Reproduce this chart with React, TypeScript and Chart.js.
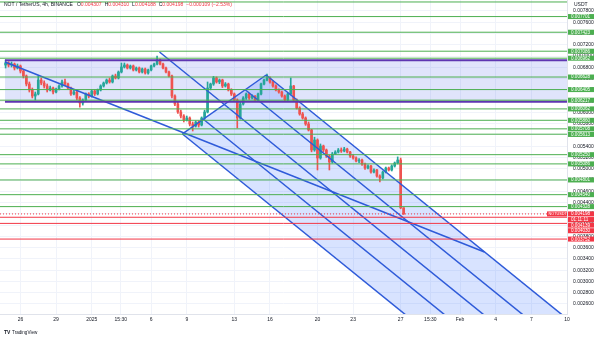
import React, { useEffect, useRef } from "react";
import { Chart, registerables } from "chart.js";

Chart.register(...registerables);

// ---------- data ----------
const HEADER_SYMBOL = "NOT / TetherUS, 4h, BINANCE";
const HEADER_OHLC: [string, string][] = [
  ["O", "0.004307"],
  ["H", "0.004310"],
  ["L", "0.004188"],
  ["C", "0.004198"],
  ["", "\u22120.000109 (\u22122.53%)"],
];

// time axis in days from 2025-01-01 00:00
const CANDLE_START = -7.25;
const CANDLE_STEP = 0.25;
// prices in 1e-6 USDT: [open, high, low, close]
const candles: number[][] = [
  [6841, 6930, 6788, 6877], [6877, 6900, 6806, 6841], [6841, 6895, 6806, 6859], [6859, 6877, 6753, 6788],
  [6788, 6859, 6770, 6824], [6824, 6841, 6700, 6735], [6735, 6753, 6611, 6646], [6646, 6664, 6470, 6504],
  [6504, 6540, 6362, 6398], [6398, 6433, 6256, 6291], [6291, 6362, 6220, 6327], [6327, 6646, 6310, 6575],
  [6575, 6611, 6490, 6522], [6522, 6560, 6433, 6469], [6469, 6504, 6362, 6398], [6398, 6469, 6380, 6433],
  [6433, 6450, 6330, 6362], [6362, 6433, 6345, 6415], [6415, 6490, 6398, 6469], [6469, 6575, 6450, 6540],
  [6540, 6593, 6480, 6504], [6504, 6522, 6415, 6433], [6433, 6450, 6300, 6327], [6327, 6398, 6310, 6362],
  [6362, 6380, 6220, 6256], [6256, 6280, 6095, 6167], [6167, 6240, 6130, 6220], [6220, 6345, 6200, 6327],
  [6327, 6350, 6256, 6291], [6291, 6398, 6270, 6380], [6380, 6400, 6300, 6327], [6327, 6415, 6310, 6398],
  [6398, 6490, 6380, 6469], [6469, 6540, 6450, 6522], [6522, 6593, 6504, 6575], [6575, 6611, 6520, 6540],
  [6540, 6664, 6522, 6646], [6646, 6680, 6593, 6611], [6611, 6735, 6593, 6717], [6717, 6877, 6700, 6806],
  [6806, 6877, 6788, 6841], [6841, 6860, 6770, 6788], [6788, 6841, 6770, 6824], [6824, 6841, 6735, 6753],
  [6753, 6806, 6735, 6788], [6788, 6806, 6700, 6717], [6717, 6788, 6699, 6770], [6770, 6788, 6680, 6699],
  [6699, 6770, 6680, 6753], [6753, 6841, 6735, 6824], [6824, 6877, 6806, 6859], [6859, 7001, 6841, 6930],
  [6930, 6948, 6841, 6859], [6859, 6877, 6770, 6788], [6788, 6806, 6700, 6717], [6717, 6735, 6630, 6646],
  [6646, 6664, 6256, 6291], [6291, 6310, 6120, 6149], [6149, 6180, 5980, 6007], [6007, 6040, 5900, 5936],
  [5936, 5960, 5830, 5865], [5865, 5936, 5848, 5901], [5901, 5920, 5760, 5794], [5794, 5830, 5670, 5759],
  [5759, 5848, 5740, 5830], [5830, 5850, 5740, 5776], [5776, 5920, 5760, 5901], [5901, 6040, 5880, 6007],
  [6007, 6540, 5990, 6433], [6433, 6520, 6400, 6504], [6504, 6640, 6480, 6611], [6611, 6630, 6520, 6540],
  [6540, 6593, 6510, 6575], [6575, 6590, 6440, 6469], [6469, 6530, 6450, 6504], [6504, 6520, 6380, 6398],
  [6398, 6420, 6300, 6327], [6327, 6345, 6200, 6220], [6220, 6240, 5723, 5901], [5901, 6180, 5880, 6149],
  [6149, 6280, 6130, 6256], [6256, 6345, 6230, 6327], [6327, 6345, 6230, 6256], [6256, 6310, 6240, 6291],
  [6291, 6300, 6200, 6220], [6220, 6345, 6200, 6327], [6327, 6520, 6310, 6504], [6504, 6593, 6490, 6575],
  [6575, 6682, 6560, 6611], [6611, 6630, 6520, 6540], [6540, 6560, 6450, 6469], [6469, 6490, 6380, 6398],
  [6398, 6420, 6340, 6362], [6362, 6380, 6270, 6291], [6291, 6310, 6200, 6220], [6220, 6345, 6200, 6327],
  [6327, 6611, 6310, 6469], [6469, 6480, 6200, 6220], [6220, 6240, 6060, 6078], [6078, 6100, 5950, 5972],
  [5972, 6000, 5880, 5901], [5901, 5920, 5770, 5794], [5794, 5830, 5670, 5688], [5688, 5700, 5300, 5333],
  [5333, 5560, 5310, 5510], [5510, 5530, 4978, 5191], [5191, 5440, 5170, 5404], [5404, 5420, 5300, 5333],
  [5333, 5350, 5200, 5226], [5226, 5240, 4978, 5120], [5120, 5290, 5100, 5262], [5262, 5320, 5250, 5297],
  [5297, 5360, 5280, 5333], [5333, 5370, 5290, 5315], [5315, 5380, 5300, 5350], [5350, 5365, 5280, 5297],
  [5297, 5310, 5200, 5226], [5226, 5250, 5170, 5191], [5191, 5210, 5120, 5137], [5137, 5180, 5110, 5155],
  [5155, 5170, 5060, 5084], [5084, 5100, 4990, 5013], [5013, 5070, 4995, 5049], [5049, 5060, 4920, 4942],
  [4942, 5000, 4925, 4978], [4978, 4990, 4850, 4871], [4871, 4890, 4765, 4836], [4836, 4960, 4820, 4942],
  [4942, 5030, 4925, 5013], [5013, 5030, 4960, 4978], [4978, 5070, 4960, 5049], [5049, 5120, 5030, 5102],
  [5102, 5210, 5085, 5155], [5155, 5190, 4290, 4307], [4307, 4310, 4188, 4198],
];

const xTickValues = [-6, -3, 0, 2.45, 5, 8, 12, 15, 19, 22, 26, 28.5, 31, 34, 37, 40];
const xTickLabels = ["26", "29", "2025", "15:30", "6", "9", "13", "16", "20", "23", "27", "15:30", "Feb", "4", "7", "10"];

const priceTicks = [7800, 7600, 7400, 7200, 7000, 6800, 6600, 6400, 6200, 6000, 5800, 5600, 5400, 5200, 5000,
  4800, 4600, 4400, 4200, 4000, 3800, 3600, 3400, 3200, 3000, 2800, 2600];

const greenLevels = [7960, 7701, 7423, 7086, 6962, 6628, 6405, 6217, 6062, 5860, 5708, 5613, 5250, 5086, 4801, 4540, 4328];
const redLevels = [4139, 4030, 3752];
const lastPrice = 4198;
const countdown = "01:11:11";
const tickerTag = "NOTUSDT";

const boxRange = [6925, 6190]; // top, bottom
const boxStartDay = -7.3;

const trendLine = [[-7.3, 6894], [33.05, 3522]];
const pitchforkPoints = [[5.705, 7072], [7.634, 5617], [14.68, 6664]];
const pitchforkLevels = [0, 0.25, 0.5, 0.75, 1];

// ---------- styling ----------
const X_MIN = -7.72, X_MAX = 40;
const Y_MIN = 2422, Y_MAX = 7995;
const UP = "#26a69a", DOWN = "#ef5350";
const GREEN = "#4caf50", RED = "#f23645", PURPLE = "#5e35b1", BLUE = "#2f5bd9";
const FONT = '"Liberation Sans", Arial, sans-serif';
const fmt = (v: number) => (v / 1e6).toFixed(6);

function pitchforkLines() {
  const [P1, P2, P3] = pitchforkPoints;
  const mid = [(P2[0] + P3[0]) / 2, (P2[1] + P3[1]) / 2];
  const dir = [mid[0] - P1[0], mid[1] - P1[1]];
  const K = 8;
  return pitchforkLevels.map((f) => {
    const s = f === 0.5 ? P1 : [P2[0] + f * (P3[0] - P2[0]), P2[1] + f * (P3[1] - P2[1])];
    return [s, [s[0] + K * dir[0], s[1] + K * dir[1]]];
  });
}

const overlay = {
  id: "overlay",
  beforeDatasetsDraw(chart: any) {
    const { ctx, chartArea: a, scales } = chart;
    const x = scales.x, y = scales.y;
    ctx.save();
    ctx.beginPath();
    ctx.rect(a.left, a.top, a.width, a.height);
    ctx.clip();
    const bx = x.getPixelForValue(boxStartDay);
    const bt = y.getPixelForValue(boxRange[0]);
    const bb = y.getPixelForValue(boxRange[1]);
    ctx.fillStyle = "rgba(60,90,230,0.16)";
    ctx.fillRect(bx, bt, a.right - bx, bb - bt);
    const lines = pitchforkLines();
    const first = lines[0], last = lines[lines.length - 1];
    ctx.beginPath();
    ctx.moveTo(x.getPixelForValue(first[0][0]), y.getPixelForValue(first[0][1]));
    ctx.lineTo(x.getPixelForValue(last[0][0]), y.getPixelForValue(last[0][1]));
    ctx.lineTo(x.getPixelForValue(last[1][0]), y.getPixelForValue(last[1][1]));
    ctx.lineTo(x.getPixelForValue(first[1][0]), y.getPixelForValue(first[1][1]));
    ctx.closePath();
    ctx.fillStyle = "rgba(41,98,255,0.18)";
    ctx.fill();
    ctx.restore();
  },
  afterDraw(chart: any) {
    const { ctx, chartArea: a, scales } = chart;
    const y = scales.y;
    ctx.save();
    ctx.textBaseline = "middle";
    ctx.textAlign = "left";
    ctx.font = `5px ${FONT}`;
    let cx = 4;
    const hy = 4.5;
    ctx.fillStyle = "#131722";
    ctx.fillText(HEADER_SYMBOL, cx, hy);
    cx += ctx.measureText(HEADER_SYMBOL).width + 4;
    HEADER_OHLC.forEach(([k, v]) => {
      if (k) {
        ctx.fillStyle = "#131722";
        ctx.fillText(k, cx, hy);
        cx += ctx.measureText(k).width;
      }
      ctx.fillStyle = RED;
      ctx.fillText(v, cx, hy);
      cx += ctx.measureText(v).width + 3;
    });
    ctx.fillStyle = "#131722";
    ctx.fillText("USDT", 574, 4.5);

    const H = 5.6;
    const items: { y: number; text: string; bg: string }[] = [];
    greenLevels.forEach((v) => {
      const py = y.getPixelForValue(v);
      if (py > 8) items.push({ y: py, text: fmt(v), bg: GREEN });
    });
    redLevels.forEach((v) => items.push({ y: y.getPixelForValue(v), text: fmt(v), bg: RED }));
    const lp = y.getPixelForValue(lastPrice);
    items.push({ y: lp, text: fmt(lastPrice), bg: RED });
    items.push({ y: lp + 0.01, text: countdown, bg: RED });
    items.sort((p, q) => p.y - q.y);
    for (let i = 1; i < items.length; i++) {
      if (items[i].y < items[i - 1].y + H) items[i].y = items[i - 1].y + H;
    }
    ctx.font = `4.6px ${FONT}`;
    items.forEach((it) => {
      ctx.fillStyle = it.bg;
      ctx.fillRect(a.right + 1, it.y - H / 2 + 0.3, 26, H - 0.6);
      ctx.fillStyle = "#ffffff";
      ctx.fillText(it.text, a.right + 4, it.y + 0.2);
    });
    ctx.fillStyle = RED;
    ctx.fillRect(a.right - 20, lp - 2.5, 20, 5);
    ctx.fillStyle = "#ffffff";
    ctx.font = `3.8px ${FONT}`;
    ctx.fillText(tickerTag, a.right - 18.5, lp + 0.2);

    ctx.fillStyle = "#131722";
    ctx.font = `bold 5px ${FONT}`;
    ctx.fillText("TV", 4, 333);
    ctx.font = `4.6px ${FONT}`;
    ctx.fillText("TradingView", 12, 333);
    ctx.restore();
  },
};

function lineDs(points: number[][], color: string, width: number, dash: number[] = []) {
  return {
    type: "line" as const,
    data: points.map((p) => ({ x: p[0], y: p[1] })),
    borderColor: color,
    borderWidth: width,
    borderDash: dash,
    pointRadius: 0,
    tension: 0,
    fill: false,
    order: 0,
  };
}

export default function App() {
  const ref = useRef<HTMLCanvasElement | null>(null);
  useEffect(() => {
    if (!ref.current) return;
    const xs = candles.map((_, i) => CANDLE_START + i * CANDLE_STEP);
    const colors = candles.map((c) => (c[3] >= c[0] ? UP : DOWN));
    const datasets: any[] = [];
    greenLevels.forEach((v) => datasets.push(lineDs([[X_MIN, v], [X_MAX, v]], GREEN, 1)));
    redLevels.forEach((v) => datasets.push(lineDs([[X_MIN, v], [X_MAX, v]], RED, 1)));
    datasets.push(lineDs([[X_MIN, lastPrice], [X_MAX, lastPrice]], RED, 1, [1, 2]));
    datasets.push(lineDs([[boxStartDay, boxRange[0]], [X_MAX, boxRange[0]]], PURPLE, 2));
    datasets.push(lineDs([[boxStartDay, boxRange[1]], [X_MAX, boxRange[1]]], PURPLE, 2));
    datasets.push(lineDs(trendLine, BLUE, 1.5));
    datasets.push(lineDs([pitchforkPoints[1], pitchforkPoints[2]], BLUE, 1.5));
    pitchforkLines().forEach((ln) => datasets.push(lineDs(ln, BLUE, 1.5)));
    datasets.push({
      type: "bar",
      data: candles.map((c, i) => ({ x: xs[i], y: [c[0], c[3]] })),
      backgroundColor: colors,
      barThickness: 2,
      grouped: false,
      order: 4,
    });
    datasets.push({
      type: "bar",
      data: candles.map((c, i) => ({ x: xs[i], y: [c[2], c[1]] })),
      backgroundColor: colors,
      barThickness: 1,
      grouped: false,
      order: 5,
    });

    const chart = new Chart(ref.current, {
      type: "bar",
      data: { datasets },
      options: {
        animation: false,
        responsive: false,
        devicePixelRatio: 1,
        layout: { padding: 0 },
        plugins: { legend: { display: false }, tooltip: { enabled: false } },
        events: [],
        scales: {
          x: {
            type: "linear",
            min: X_MIN,
            max: X_MAX,
            offset: false,
            afterBuildTicks: (s: any) => {
              s.ticks = xTickValues.map((v) => ({ value: v }));
            },
            afterFit: (s: any) => {
              s.height = 24;
              s.paddingLeft = 0;
              s.paddingRight = 0;
              s.paddingTop = 0;
              s.paddingBottom = 0;
            },
            ticks: {
              autoSkip: false,
              maxRotation: 0,
              padding: 3,
              color: "#131722",
              font: { size: 5, family: FONT },
              callback: (v: any) => {
                const i = xTickValues.indexOf(Number(v));
                return i >= 0 ? xTickLabels[i] : "";
              },
            },
            grid: { color: "#f0f3fa", drawTicks: false, offset: false },
            border: { color: "#e0e3eb" },
          },
          y: {
            type: "linear",
            position: "right",
            min: Y_MIN,
            max: Y_MAX,
            afterBuildTicks: (s: any) => {
              s.ticks = priceTicks.map((v) => ({ value: v }));
            },
            afterFit: (s: any) => {
              s.width = 33;
              s.paddingLeft = 0;
              s.paddingRight = 0;
              s.paddingTop = 0;
              s.paddingBottom = 0;
            },
            ticks: {
              padding: 6,
              color: "#131722",
              font: { size: 5, family: FONT },
              callback: (v: any) => fmt(Number(v)),
            },
            grid: { color: "#f0f3fa", drawTicks: false },
            border: { color: "#e0e3eb" },
          },
        },
      } as any,
      plugins: [overlay],
    });
    return () => chart.destroy();
  }, []);

  return (
    <div style={{ position: "fixed", left: 0, top: 0, width: 600, height: 338, background: "#ffffff" }}>
      <canvas ref={ref} width={600} height={338} style={{ display: "block", width: 600, height: 338 }} />
    </div>
  );
}
